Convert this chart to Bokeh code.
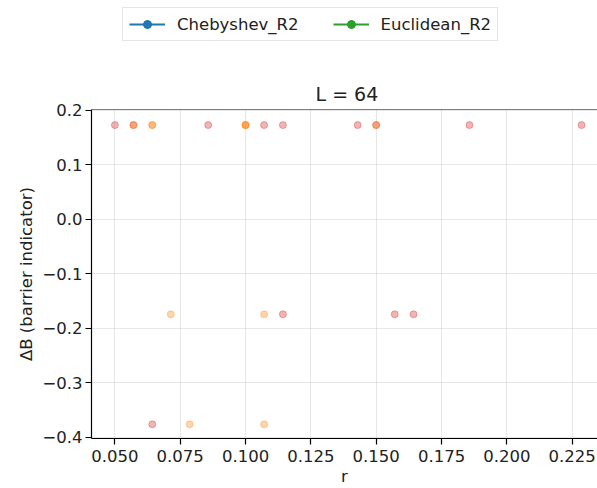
from bokeh.plotting import figure
from bokeh.layouts import column
from bokeh.models import (Range1d, FixedTicker, CustomJSTickFormatter, Legend, LegendItem,
                          Title, Span, ColumnDataSource)
from bokeh.embed import file_html
from bokeh.resources import INLINE

# ---- data ----
title_text = "L = 64"
x_label = "r"
y_label = "ΔB (barrier indicator)"

x_tick_values = [0.050, 0.075, 0.100, 0.125, 0.150, 0.175, 0.200, 0.225]
y_tick_values = [-0.4, -0.3, -0.2, -0.1, 0.0, 0.1, 0.2]

# individual samples (red group)
red_r = [0.0500, 0.0571, 0.0857, 0.1071, 0.1143, 0.1429, 0.1500, 0.1857, 0.2286,
         0.1143, 0.1571, 0.1643,
         0.0643]
red_dB = [0.1727, 0.1727, 0.1727, 0.1727, 0.1727, 0.1727, 0.1727, 0.1727, 0.1727,
          -0.1745, -0.1745, -0.1745,
          -0.3764]
# individual samples (orange group)
orange_r = [0.0571, 0.0643, 0.0643, 0.1000, 0.1000, 0.1000, 0.1500,
            0.0714, 0.1071,
            0.0786, 0.1071]
orange_dB = [0.1727, 0.1727, 0.1727, 0.1727, 0.1727, 0.1727, 0.1727,
             -0.1745, -0.1745,
             -0.3764, -0.3764]

# mean series with error bars: no finite values in this panel (legend only)
nan = float("nan")
cheb_r, cheb_mean, cheb_err = [nan], [nan], [nan]
eucl_r, eucl_mean, eucl_err = [nan], [nan], [nan]

series_names = ["Chebyshev_R2", "Euclidean_R2"]
series_colors = ["#1f77b4", "#2ca02c"]

FONT = "DejaVu Sans"
FS = "16.5px"
TOP_H = 48

# ---------- legend strip ----------
lg = figure(width=597, height=TOP_H, x_range=Range1d(0, 1), y_range=Range1d(0, 1),
            x_axis_type=None, y_axis_type=None, output_backend="svg", toolbar_location=None,
            min_border_left=0, min_border_right=0, min_border_top=0, min_border_bottom=0,
            background_fill_color="white", border_fill_color="white")
lg.outline_line_color = None
lg.grid.visible = False

items = []
for name, color, xs, ys in [(series_names[0], series_colors[0], cheb_r, cheb_mean),
                            (series_names[1], series_colors[1], eucl_r, eucl_mean)]:
    src = ColumnDataSource(dict(x=xs, y=ys))
    ln = lg.line("x", "y", source=src, line_color=color, line_width=2)
    bar = lg.scatter("x", "y", source=src, marker="cross", size=18,
                     line_color=color, line_width=2)
    dot = lg.scatter("x", "y", source=src, marker="circle", size=9, fill_color=color, line_color=color)
    items.append(LegendItem(label=name, renderers=[ln, bar, dot], index=0))

legend = Legend(items=items, orientation="horizontal", location=(31, 7),
                glyph_width=36, glyph_height=20, label_standoff=12, spacing=34, padding=6,
                margin=0, border_line_color="#cccccc", border_line_width=1,
                background_fill_color="white", background_fill_alpha=1.0,
                label_text_font=FONT, label_text_font_size=FS, label_text_color="#222222")
lg.add_layout(legend, "center")

# ---------- main plot ----------
p = figure(width=597, height=488 - TOP_H,
           x_range=Range1d(0.04104, 0.2347), y_range=Range1d(-0.4025, 0.2013),
           output_backend="svg", toolbar_location=None, title=None,
           min_border_left=91, min_border_right=0, min_border_top=109 - TOP_H, min_border_bottom=48,
           background_fill_color="white", border_fill_color="white")
p.outline_line_color = None

for g in (p.xgrid, p.ygrid):
    g.grid_line_color = "#b0b0b0"
    g.grid_line_alpha = 0.3
    g.grid_line_width = 1
p.xgrid.ticker = FixedTicker(ticks=x_tick_values)
p.ygrid.ticker = FixedTicker(ticks=y_tick_values)

p.xaxis.ticker = FixedTicker(ticks=x_tick_values)
p.yaxis.ticker = FixedTicker(ticks=y_tick_values)
p.xaxis.formatter = CustomJSTickFormatter(code="return tick.toFixed(3);")
p.yaxis.formatter = CustomJSTickFormatter(
    code="var s = Math.abs(tick) < 1e-9 ? '0.0' : tick.toFixed(1); return s.replace('-', '\u2212');")
for ax in (p.xaxis, p.yaxis):
    ax.axis_line_color = "black"
    ax.axis_line_width = 1.2
    ax.major_tick_line_color = "black"
    ax.major_tick_line_width = 1.2
    ax.major_tick_out = 6
    ax.major_tick_in = 0
    ax.minor_tick_line_color = None
    ax.major_label_text_font = FONT
    ax.major_label_text_font_size = FS
    ax.major_label_text_color = "#222222"
    ax.axis_label_text_font = FONT
    ax.axis_label_text_font_size = FS
    ax.axis_label_text_font_style = "normal"
    ax.axis_label_text_color = "#222222"
p.xaxis.axis_label = x_label
p.yaxis.axis_label = y_label
p.xaxis.major_label_standoff = 5
p.xaxis.axis_label_standoff = 2
p.yaxis.major_label_standoff = 3
p.yaxis.axis_label_standoff = 3

# top spine
p.add_layout(Span(location=p.y_range.end, dimension="width", line_color="black", line_width=1.2))

p.scatter(red_r, red_dB, size=7, marker="circle", fill_color="#d62728", line_color="#d62728",
          fill_alpha=0.35, line_alpha=0.35)
p.scatter(orange_r, orange_dB, size=7, marker="circle", fill_color="#ff7f0e", line_color="#ff7f0e",
          fill_alpha=0.33, line_alpha=0.33)

p.add_layout(Title(text=title_text, align="left", text_font=FONT, text_font_size="19px",
                   text_font_style="normal", text_color="#222222", standoff=10, offset=224), "above")

layout = column(lg, p, spacing=0)
open("out.html", "w").write(file_html(layout, INLINE))
